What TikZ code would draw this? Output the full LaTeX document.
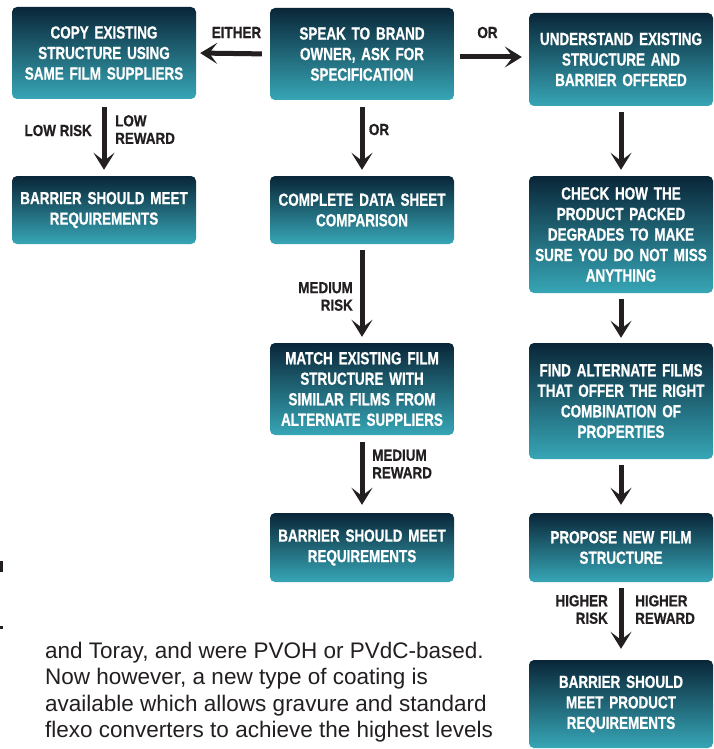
\documentclass[tikz,border=0pt]{standalone}
\usepackage{fontspec}
\setmainfont{Liberation Sans}
\newfontfamily\condfont[FakeStretch=0.77,FakeBold=0.8]{Liberation Sans}
\newfontfamily\labfont[FakeStretch=0.84,FakeBold=0.6]{Liberation Sans}
\usetikzlibrary{arrows.meta,calc}
\definecolor{boxtop}{RGB}{9,38,56}
\definecolor{boxbot}{RGB}{55,166,182}
\definecolor{ink}{RGB}{35,31,32}
\begin{document}
\begin{tikzpicture}[x=1pt,y=-1pt,
  box/.style={rectangle, rounded corners=5pt, top color=boxtop, bottom color=boxbot,
    text=white, font=\condfont\bfseries\fontsize{17.5}{20.5}\selectfont, align=center,
    minimum width=184pt, text width=182pt, inner sep=0pt},
  lab/.style={font=\labfont\bfseries\fontsize{16}{17.5}\selectfont, text=ink, inner sep=0pt},
  arr/.style={draw=ink, line width=5pt, -{Stealth[length=17pt,width=21pt,inset=8pt]}},
  para/.style={font=\fontsize{22.5}{26}\selectfont, text=ink, inner sep=0pt, anchor=base west}]
\useasboundingbox (0,0) rectangle (713,749);
\fill[white] (0,0) rectangle (713,749);
% boxes
\node[box, minimum height=92pt] (A) at (104,53) {COPY EXISTING\\STRUCTURE USING\\SAME FILM SUPPLIERS};
\node[box, minimum height=92pt] (B) at (362,54) {SPEAK TO BRAND\\OWNER, ASK FOR\\SPECIFICATION};
\node[box, minimum height=93pt] (C) at (621,59.5) {UNDERSTAND EXISTING\\STRUCTURE AND\\BARRIER OFFERED};
\node[box, minimum height=68pt] (D) at (104,210) {BARRIER SHOULD MEET\\REQUIREMENTS};
\node[box, minimum height=68pt] (E) at (362,210) {COMPLETE DATA SHEET\\COMPARISON};
\node[box, minimum height=117pt] (F) at (621,234.5) {CHECK HOW THE\\PRODUCT PACKED\\DEGRADES TO MAKE\\SURE YOU DO NOT MISS\\ANYTHING};
\node[box, minimum height=92pt] (G) at (362,389) {MATCH EXISTING FILM\\STRUCTURE WITH\\SIMILAR FILMS FROM\\ALTERNATE SUPPLIERS};
\node[box, minimum height=116pt] (H) at (621,401) {FIND ALTERNATE FILMS\\THAT OFFER THE RIGHT\\COMBINATION OF\\PROPERTIES};
\node[box, minimum height=69pt] (I) at (362,547.5) {BARRIER SHOULD MEET\\REQUIREMENTS};
\node[box, minimum height=69pt] (J) at (621,547.5) {PROPOSE NEW FILM\\STRUCTURE};
\node[box, minimum height=88pt] (K) at (621,704) {BARRIER SHOULD\\MEET PRODUCT\\REQUIREMENTS};
% arrows
\draw[arr, shorten <=8pt, shorten >=4pt] (B.west) -- (A.east);
\coordinate (orS) at ($(B.east)+(0,3)$);
\draw[arr, shorten <=6pt, shorten >=7pt] (orS) -- (orS -| C.west);
\draw[arr, shorten <=8pt, shorten >=6pt] (A) -- (D);
\draw[arr, shorten <=7pt, shorten >=6pt] (B) -- (E);
\draw[arr, shorten <=6pt, shorten >=6pt] (C) -- (F);
\draw[arr, shorten <=6pt, shorten >=6pt] (E) -- (G);
\draw[arr, shorten <=6pt, shorten >=5pt] (F) -- (H);
\draw[arr, shorten <=7pt, shorten >=8pt] (G) -- (I);
\draw[arr, shorten <=6pt, shorten >=8pt] (H) -- (J);
\draw[arr, shorten <=6pt, shorten >=11pt] (J) -- (K);
% labels
\node[lab] (l1) at (236.5,32.5) {EITHER};
\node[lab] (l2) at (487.5,32.5) {OR};
\node[lab, anchor=east] (l3) at (92,130.5) {LOW RISK};
\node[lab, anchor=west, align=left] (l4) at (115,129.5) {LOW\\REWARD};
\node[lab] (l5) at (379,129.5) {OR};
\node[lab, anchor=east, align=right] (l6) at (353,296.5) {MEDIUM\\RISK};
\node[lab, anchor=west, align=left] (l7) at (372,464) {MEDIUM\\REWARD};
\node[lab, anchor=east, align=right] (l8) at (608,609.5) {HIGHER\\RISK};
\node[lab, anchor=west, align=left] (l9) at (635,609.5) {HIGHER\\REWARD};
% paragraph
\node[para] (p1) at (45,658) {and Toray, and were PVOH or PVdC-based.};
\node[para] (p2) at (45,684.5) {Now however, a new type of coating is};
\node[para] (p3) at (45,711) {available which allows gravure and standard};
\node[para] (p4) at (45,737.5) {flexo converters to achieve the highest levels};
% edge fragments
\fill[ink] (0,561) rectangle (2.5,572);
\fill[ink] (0,626) rectangle (2.5,629);
\end{tikzpicture}
\end{document}
